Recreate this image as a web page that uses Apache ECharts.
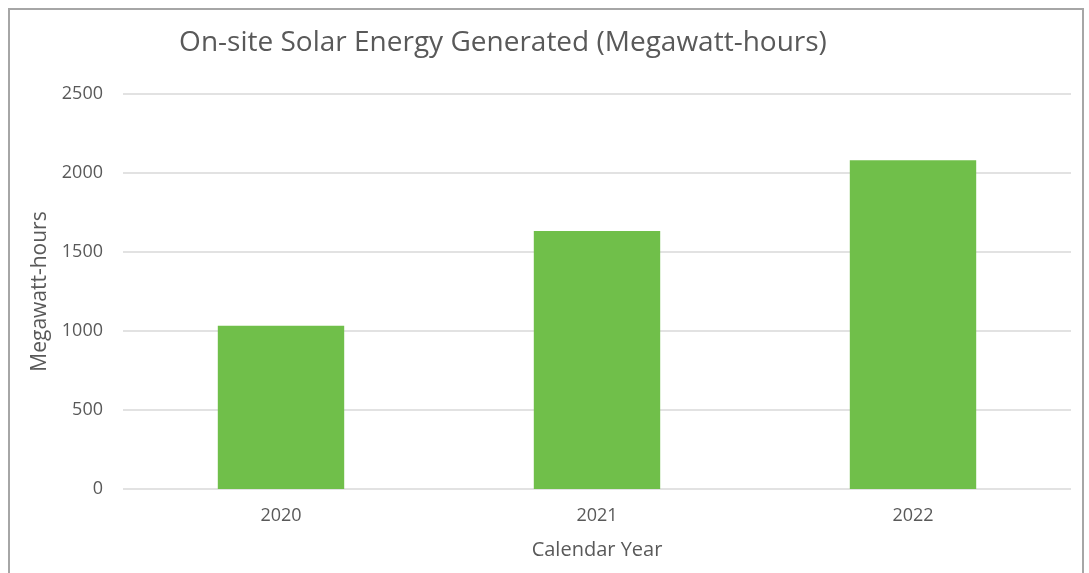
<!DOCTYPE html>
<html>
<head>
<meta charset="utf-8">
<script src="https://cdn.jsdelivr.net/npm/echarts@6/dist/echarts.min.js"></script>
<style>
  html, body { margin: 0; padding: 0; background: #fff; }
  #chart { width: 1089px; height: 573px; }
  /* frame around the chart area (no bottom edge visible) */
  #frame {
    position: absolute; left: 8px; top: 8px; width: 1076px; height: 580px;
    border: 2px solid #a6a6a6; box-sizing: border-box; pointer-events: none;
  }
</style>
</head>
<body>
<div id="chart"></div>
<div id="frame"></div>
<script>
const years = ['2020', '2021', '2022'];
const energy = [1033, 1633, 2080];   // MWh
const yTicks = [0, 500, 1000, 1500, 2000, 2500];

const textColor = '#595959';
const font = 'Open Sans';

const chart = echarts.init(document.getElementById('chart'));
chart.setOption({
  animation: false,
  title: {
    text: 'On-site Solar Energy Generated (Megawatt-hours)',
    left: 498,
    textAlign: 'center',
    top: 24,
    textStyle: { color: textColor, fontFamily: font, fontSize: 28, fontWeight: 'normal' }
  },
  grid: { left: 123, right: 18, top: 94, bottom: 84 },
  xAxis: {
    type: 'category',
    data: years,
    name: 'Calendar Year',
    nameLocation: 'middle',
    nameGap: 51,
    nameTextStyle: { color: textColor, fontFamily: font, fontSize: 20 },
    axisLine: { show: false },
    axisTick: { show: false },
    axisLabel: { color: textColor, fontFamily: font, fontSize: 18, margin: 18 }
  },
  yAxis: {
    type: 'value',
    min: yTicks[0],
    max: yTicks[yTicks.length - 1],
    interval: 500,
    name: 'Megawatt-hours',
    nameLocation: 'middle',
    nameGap: 56,
    nameTextStyle: { color: textColor, fontFamily: font, fontSize: 21 },
    axisLabel: {
      color: textColor, fontFamily: font, fontSize: 18, margin: 20,
      formatter: v => String(v)
    },
    splitLine: { lineStyle: { color: '#d9d9d9', width: 1.5 } }
  },
  series: [{
    type: 'bar',
    data: energy,
    barWidth: '40%',
    itemStyle: { color: '#70bf4a' }
  }]
});
</script>
</body>
</html>
